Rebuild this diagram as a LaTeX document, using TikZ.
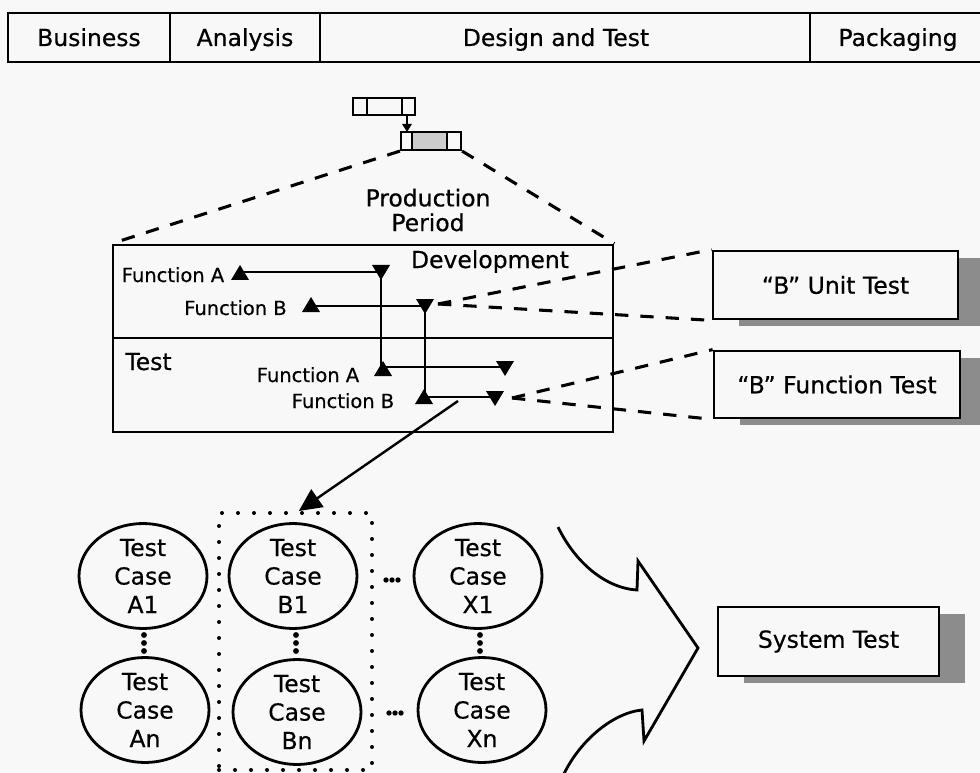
\documentclass[tikz,border=0pt]{standalone}
\usepackage{fontspec}
\setmainfont{DejaVu Sans}[FakeBold=0.5]
\usetikzlibrary{shapes.geometric,shadows,arrows.meta}
\definecolor{paper}{RGB}{248,248,248}
\definecolor{shade}{RGB}{140,140,140}

\begin{document}
\begin{tikzpicture}[x=0.75pt,y=-0.75pt,
  big/.style={font=\fontsize{17.6}{21.4}\selectfont},
  small/.style={font=\fontsize{14.6}{17}\selectfont},
  barline/.style={line width=2.1pt},
  link/.style={line width=2.3pt, dash pattern=on 10pt off 9pt},
  flow/.style={line width=1.5pt},
  tbox/.style={draw, line width=2.1pt, fill=paper, big, inner sep=0pt,
    drop shadow={shadow xshift=19.5pt, shadow yshift=-5.25pt, fill=shade, opacity=1}},
  tcase/.style={draw, ellipse, line width=2.1pt, fill=paper, big, align=center,
    inner sep=0pt, minimum width=96pt, minimum height=71pt},
  uptri/.pic={\fill (-9,7) -- (9,7) -- (0,-8) -- cycle;},
  dntri/.pic={\fill (-9,-7) -- (9,-7) -- (0,8) -- cycle;},
]
\useasboundingbox (0,0) rectangle (980,773);
\clip (0,0) rectangle (980,773);
\fill[paper] (0,0) rectangle (980,773);

% phase bar
\draw[barline] (8,13) rectangle (995,62);
\draw[barline] (170,13) -- (170,62);
\draw[barline] (320,13) -- (320,62);
\draw[barline] (810,13) -- (810,62);
\node[big, anchor=base] (biz) at (89,46) {Business};
\node[big, anchor=base] (ana) at (245,46) {Analysis};
\node[big, anchor=base] (dat) at (556,46) {Design and Test};
\node[big, anchor=base] (pkg) at (898,46) {Packaging};

% small schedule icon
\node[draw, line width=1.6pt, minimum width=46.5pt, minimum height=12.75pt, inner sep=0pt] (bar1) at (384,106.5) {};
\draw[line width=1.6pt] (367,98) -- (367,115) (402,98) -- (402,115);
\fill[gray!40] (412,132) rectangle (447,150);
\node[draw, line width=1.6pt, minimum width=45pt, minimum height=13.5pt, inner sep=0pt] (bar2) at (431,141) {};
\draw[line width=1.6pt] (412,132) -- (412,150) (447,132) -- (447,150);
\coordinate (g1) at (407,115);
\coordinate (g2) at (407,132);
\draw[line width=1.4pt, -{Triangle[length=6pt,width=7pt]}] (g1) -- (g2);

% production period box
\node[draw, barline, minimum width=375pt, minimum height=140.25pt, inner sep=0pt] (prod) at (363,338.5) {};
\coordinate (divL) at (113,338);
\coordinate (divR) at (613,338);
\draw[barline] (divL) -- (divR);
\draw[link] (bar2.south west) -- (prod.north west);
\draw[link] (bar2.south east) -- (prod.north east);
\node[align=center, font=\fontsize{17.6}{18.5}\selectfont] (pp) at (428,210) {Production\\Period};
\node[big, anchor=base] (dev) at (490,268) {Development};
\node[big, anchor=base] (tst) at (148.5,370) {Test};
\node[small, anchor=base] (fa1) at (173,282) {Function A};
\node[small, anchor=base] (fb1) at (235.5,315) {Function B};
\node[small, anchor=base] (fa2) at (308,382) {Function A};
\node[small, anchor=base] (fb2) at (343,408) {Function B};

% function A flow
\coordinate (a1) at (240,272);
\coordinate (a2) at (381,272);
\coordinate (a3) at (381,367);
\coordinate (a4) at (505,367);
\draw[flow] (a1) -- (a2) -- (a3) -- (a4);
\pic at (240,273) {uptri};
\pic at (381,272) {dntri};
\pic at (383,369) {uptri};
\pic at (505,368) {dntri};

% function B flow
\coordinate (b1) at (310,306);
\coordinate (b2) at (425,306);
\coordinate (b3) at (425,397);
\coordinate (b4) at (495,397);
\draw[flow] (b1) -- (b2) -- (b3) -- (b4);
\pic at (311,305) {uptri};
\pic at (425,306) {dntri};
\pic at (424,397) {uptri};
\pic at (495,398) {dntri};

% test boxes
\node[tbox, minimum width=183.75pt, minimum height=51pt] (ut) at (835.5,285) {“B” Unit Test};
\node[tbox, minimum width=184.5pt, minimum height=50.25pt] (ft) at (837,384.5) {“B” Function Test};
\node[tbox, minimum width=165.75pt, minimum height=51.75pt] (st) at (828.5,641.5) {System Test};

\coordinate (bsplit) at (438,304);
\draw[link] (bsplit) -- (ut.north west);
\draw[link] (bsplit) -- (ut.south west);
\coordinate (tsplit) at (512,398);
\draw[link] (tsplit) -- (ft.north west);
\draw[link] (tsplit) -- (ft.south west);

% test case group
\node[draw, line width=3pt, dash pattern=on 0pt off 12pt, line cap=round,
  minimum width=114.75pt, minimum height=192.75pt, inner sep=0pt] (grp) at (295.5,641.5) {};
\coordinate (src) at (458,401);
\draw[line width=1.8pt, -{Triangle[length=17pt,width=16pt]}] (src) -- ([xshift=2.5pt]grp.north);

\node[tcase] (ca1) at (143,576) {Test\\Case\\A1};
\node[tcase] (can) at (145,710) {Test\\Case\\An};
\node[tcase] (cb1) at (293,576) {Test\\Case\\B1};
\node[tcase] (cbn) at (297,712) {Test\\Case\\Bn};
\node[tcase] (cx1) at (478,576) {Test\\Case\\X1};
\node[tcase] (cxn) at (482,710) {Test\\Case\\Xn};

% ellipsis marks
\foreach \x in {144,296,480}
  \foreach \y in {635,643,651}
    \fill (\x,\y) circle (2.2pt);
\foreach \x in {386,392,398}
  \fill (\x,580) circle (2pt);
\foreach \x in {389,395,401}
  \fill (\x,713) circle (2pt);

% merging arrow
\draw[line width=2.1pt, line join=miter]
  (558,527) .. controls (575,562) and (605,588) .. (637,590)
  -- (638,561) -- (698,648) -- (644,741) -- (642,710)
  .. controls (612,713) and (578,742) .. (562,778);
\end{tikzpicture}
\end{document}
